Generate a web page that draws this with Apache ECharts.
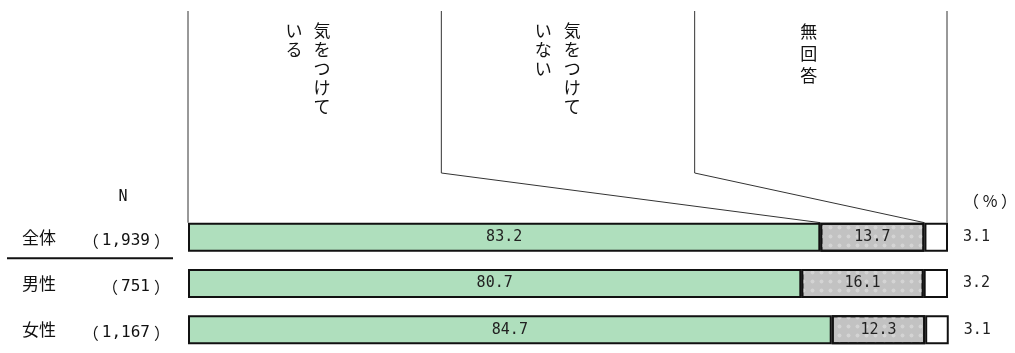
<!DOCTYPE html>
<html>
<head>
<meta charset="utf-8">
<style>
  html, body { margin: 0; padding: 0; background: #fff; }
  #chart { width: 1015px; height: 353px; }
</style>
<script src="https://cdn.jsdelivr.net/npm/echarts@6/dist/echarts.min.js"></script>
</head>
<body>
<div id="chart"></div>
<script>
// データ
var groups = ['全体', '男性', '女性'];
var counts = ['1,939', '751', '1,167'];
var seriesNames = ['気をつけている', '気をつけていない', '無回答'];
var valYes = [83.2, 80.7, 84.7];
var valNo = [13.7, 16.1, 12.3];
var valNone = [3.1, 3.2, 3.1];
// 縦書きの見出し（列ごと、右の列から）
var headerCols = [['気をつけて', 'いる'], ['気をつけて', 'いない'], ['無回答']];

var FONT = '"Noto Sans CJK JP", "Noto Sans", sans-serif';
var MONO = '"DejaVu Sans Mono", monospace';
var GRID_LEFT = 188, GRID_W = 760, BAR_W = 29;

var chart = echarts.init(document.getElementById('chart'));

var option = {
    animation: false,
    textStyle: { fontFamily: FONT },
    grid: { left: GRID_LEFT, width: GRID_W, top: 214, height: 153 },
    xAxis: { type: 'value', min: 0, max: 100, show: false },
    yAxis: [
        {
            type: 'category',
            inverse: true,
            data: groups,
            axisLine: { show: false },
            axisTick: { show: false },
            axisLabel: { margin: 166, align: 'left', fontSize: 17, color: '#111', fontFamily: FONT }
        },
        {
            type: 'category',
            position: 'left',
            inverse: true,
            data: counts,
            axisLine: { show: false },
            axisTick: { show: false },
            axisLabel: {
                margin: 18,
                padding: [7, 0, 0, 0],
                formatter: function (v) {
                    return '{p|（}{n|' + v + '}{p|）}';
                },
                rich: {
                    p: { fontSize: 16, color: '#111', fontFamily: FONT, verticalAlign: 'middle', lineHeight: 20 },
                    n: { fontSize: 16, color: '#111', fontFamily: MONO, verticalAlign: 'middle', lineHeight: 20, padding: [0, 4, 0, 3] }
                }
            }
        }
    ],
    series: [
        {
            name: seriesNames[0], type: 'bar', stack: 'a', barWidth: BAR_W,
            data: valYes,
            itemStyle: { color: '#afdfbd', borderColor: '#111', borderWidth: 2 },
            label: { show: true, position: 'inside', color: '#222', fontSize: 15, fontFamily: MONO }
        },
        {
            name: seriesNames[1], type: 'bar', stack: 'a', barWidth: BAR_W,
            data: valNo,
            itemStyle: {
                color: '#c2c2c2', borderColor: '#111', borderWidth: 2,
                decal: { symbol: 'circle', symbolSize: 0.8, color: 'rgba(212,212,212,1)', dashArrayX: [5, 4], dashArrayY: [5, 4] }
            },
            label: { show: true, position: 'inside', color: '#222', fontSize: 15, fontFamily: MONO }
        },
        {
            name: seriesNames[2], type: 'bar', stack: 'a', barWidth: BAR_W,
            data: valNone,
            itemStyle: { color: '#fff', borderColor: '#111', borderWidth: 2 },
            label: { show: true, position: 'right', distance: 15, color: '#222', fontSize: 15, fontFamily: MONO }
        }
    ]
};
chart.setOption(option);

// 見出し・引き出し線
var graphics = [];
var colW = GRID_W / 3;
var topY = 11, bendY = 173;
var firstY = chart.convertToPixel({ yAxisIndex: 0 }, groups[0]);
var barTop = firstY - BAR_W / 2;
var bounds = [valYes[0], valYes[0] + valNo[0], 100].map(function (v) {
    return chart.convertToPixel({ xAxisIndex: 0 }, v);
});
var x0 = chart.convertToPixel({ xAxisIndex: 0 }, 0);

graphics.push({ type: 'line', shape: { x1: x0, y1: topY, x2: x0, y2: barTop }, style: { stroke: '#333', lineWidth: 1 } });
for (var k = 1; k <= 2; k++) {
    var xc = GRID_LEFT + colW * k;
    graphics.push({
        type: 'polyline',
        shape: { points: [[xc, topY], [xc, bendY], [bounds[k - 1], barTop]] },
        style: { stroke: '#333', lineWidth: 1, fill: null }
    });
}
graphics.push({ type: 'line', shape: { x1: GRID_LEFT + GRID_W - 1, y1: topY, x2: GRID_LEFT + GRID_W - 1, y2: barTop }, style: { stroke: '#333', lineWidth: 1 } });

var colOffsets = [[134, 106], [131, 102], [114]];
headerCols.forEach(function (cols, s) {
    cols.forEach(function (txt, c) {
        graphics.push({
            type: 'text',
            x: GRID_LEFT + colW * s + colOffsets[s][c],
            y: 21,
            style: {
                text: txt.split('').join('\n'),
                font: '17px ' + FONT,
                lineHeight: s === 2 ? 22 : 19,
                align: 'center',
                verticalAlign: 'top',
                fill: '#111'
            }
        });
    });
});

// 区切り線（全体と男女の間）
var secondY = chart.convertToPixel({ yAxisIndex: 0 }, groups[1]);
var sepY = (firstY + secondY) / 2 - 2;
graphics.push({ type: 'line', shape: { x1: 7, y1: sepY, x2: 173, y2: sepY }, style: { stroke: '#111', lineWidth: 2 } });

graphics.push({ type: 'text', x: 123, y: 197, style: { text: 'N', font: '15px ' + MONO, fill: '#111', align: 'center', verticalAlign: 'middle' } });
graphics.push({ type: 'text', x: 990, y: 201, style: { text: '（ % ）', font: '16px ' + FONT, fill: '#111', align: 'center', verticalAlign: 'middle' } });

chart.setOption({ graphic: graphics });
</script>
</body>
</html>
